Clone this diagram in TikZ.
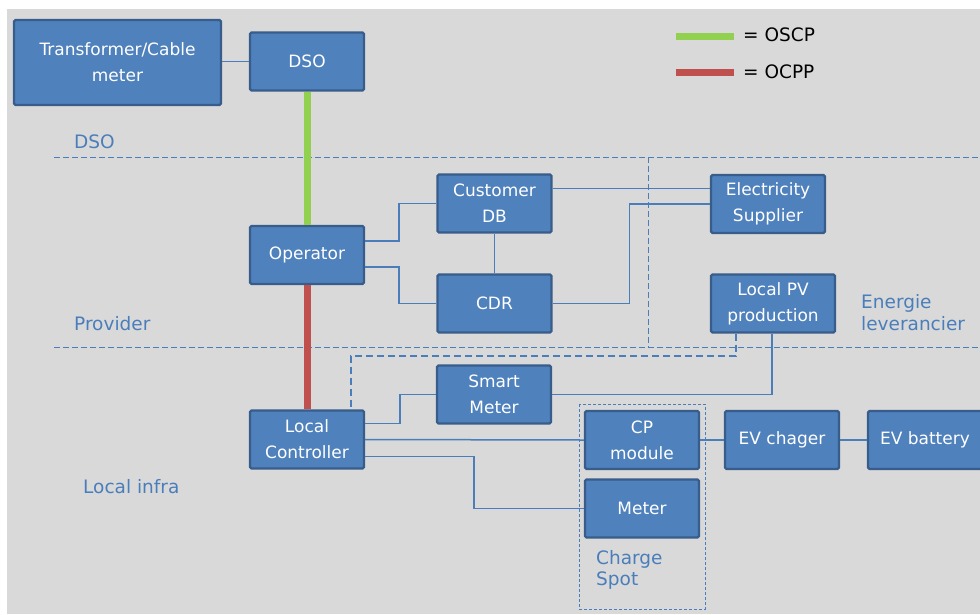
\documentclass[tikz,border=0pt]{standalone}
\usepackage{fontspec}
\setmainfont{DejaVu Sans}
\usetikzlibrary{positioning,calc}
\definecolor{boxfill}{HTML}{4F81BD}
\definecolor{boxedge}{HTML}{385D8A}
\definecolor{wire}{HTML}{4A7EBB}
\definecolor{oscpgreen}{HTML}{92D050}
\definecolor{ocppred}{HTML}{C0504D}
\definecolor{canvas}{HTML}{D9D9D9}

\begin{document}
\begin{tikzpicture}[x=1pt,y=-1pt,
  unit/.style={draw=boxedge,fill=boxfill,line width=2.4pt,rounded corners=1.5pt,text=white,
    align=center,minimum width=114pt,minimum height=58pt,inner sep=2pt,
    font=\fontsize{17}{26}\selectfont},
  link/.style={wire,line width=1.5pt},
  zone/.style={wire,line width=0.9pt,dash pattern=on 6pt off 3pt},
  pvlink/.style={wire,line width=2pt,dash pattern=on 7pt off 4pt},
  spotbox/.style={wire,line width=0.9pt,dash pattern=on 3pt off 2pt},
  zonelabel/.style={text=wire,anchor=west,align=left,inner sep=0pt,
    font=\fontsize{18.5}{21.5}\selectfont},
  oscpline/.style={oscpgreen,line width=7pt},
  ocppline/.style={ocppred,line width=7pt}]

  % Canvas
  \useasboundingbox (0,0) rectangle (980,614);
  \fill[white] (0,0) rectangle (980,614);
  \fill[canvas] (7,9) rectangle (980,614);

  % Zone separators
  \draw[zone] (54,157) -- (980,157);
  \draw[zone] (54,347) -- (980,347);
  \draw[zone] (648,157) -- (648,347);
  \node[zonelabel] (lbldso) at (74,142) {DSO};
  \node[zonelabel] (lblprov) at (74,324) {Provider};
  \node[zonelabel] (lblinfra) at (83,487) {Local infra};
  \node[zonelabel] (lblenergie) at (861,312.5) {Energie\\leverancier};

  % Legend
  \coordinate (oscpA) at (676,36);
  \coordinate (oscpB) at (734,36);
  \coordinate (ocppA) at (676,72);
  \coordinate (ocppB) at (734,72);
  \draw[oscpline] (oscpA) -- (oscpB);
  \draw[ocppline] (ocppA) -- (ocppB);
  \node[anchor=west,inner sep=0pt,font=\fontsize{18.5}{22}\selectfont] (keyoscp) at (743,35) {= OSCP};
  \node[anchor=west,inner sep=0pt,font=\fontsize{18.5}{22}\selectfont] (keyocpp) at (743,72) {= OCPP};

  % Charge spot frame
  \draw[spotbox] (579,404) rectangle (705,609);
  \node[zonelabel] (lblspot) at (596,570) {Charge\\Spot};

  % Boxes
  \node[unit,minimum width=207pt,minimum height=85pt] (trafo) at (117.5,62.5) {Transformer/Cable\\meter};
  \node[unit] (dso) at (307,61.5) {DSO};
  \node[unit] (oper) at (307,255) {Operator};
  \node[unit] (custdb) at (494.5,203.5) {Customer\\DB};
  \node[unit] (cdr) at (494.5,303.5) {CDR};
  \node[unit] (supplier) at (768,204) {Electricity\\Supplier};
  \node[unit,minimum width=124pt] (pv) at (773,303.5) {Local PV\\production};
  \node[unit] (smart) at (494,394.5) {Smart\\Meter};
  \node[unit] (lc) at (307,439.5) {Local\\Controller};
  \node[unit] (cp) at (642,440) {CP\\module};
  \node[unit] (meter) at (642,508.5) {Meter};
  \node[unit] (evc) at (782,440) {EV chager};
  \node[unit] (evb) at (925,440) {EV battery};

  % Protocol links
  \draw[oscpline] (dso.south) -- (oper.north);
  \draw[ocppline] (oper.south) -- (lc.north);

  % Data links
  \draw[link] (dso.west -| trafo.east) -- (dso.west);
  \draw[link] ([yshift=14]oper.east) -- ++(34,0) |- (custdb.west);
  \draw[link] ([yshift=-12]oper.east) -- ++(34,0) |- (cdr.west);
  \draw[link] (custdb.south) -- (cdr.north);
  \draw[link] ([yshift=15]custdb.east) -- ([yshift=15]custdb.east -| supplier.west);
  \draw[link] (cdr.east) -- ++(77,0) |- (supplier.west);
  \draw[pvlink] ([xshift=-37]pv.south) -- ++(0,22) -| ([xshift=44]lc.north);
  \draw[link] ([xshift=-1]pv.south) |- (smart.east);
  \draw[link] ([yshift=16]lc.east) -- ++(35,0) |- (smart.west);
  \draw[link] (lc.east) -- (cp.west);
  \draw[link] ([yshift=-17]lc.east) -- ++(109,0) |- (meter.west);
  \draw[link] (cp.east) -- (evc.west);
  \draw[link] (evc.east) -- (evb.west);
\end{tikzpicture}
\end{document}
